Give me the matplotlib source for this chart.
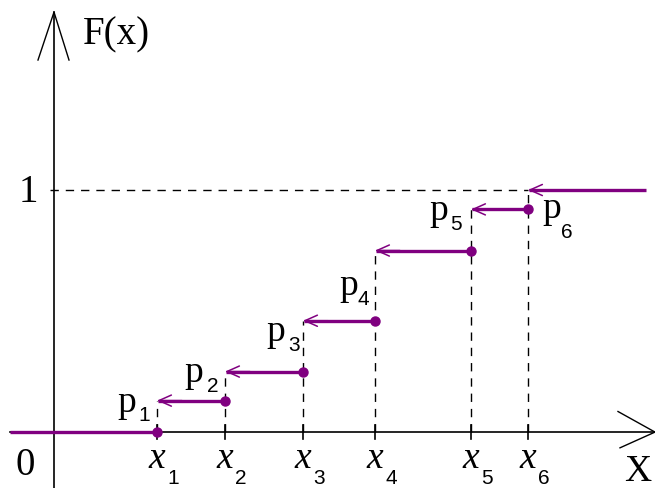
import matplotlib.pyplot as plt

# jump points of the discrete random variable and the cumulative levels after each jump
x_points = [1.03, 1.71, 2.49, 3.21, 4.17, 4.74]
F_levels = [0.13, 0.25, 0.46, 0.75, 0.92, 1.0]
x_labels = ['1', '2', '3', '4', '5', '6']
p_labels = ['1', '2', '3', '4', '5', '6']

purple = '#800080'
serif = 'Liberation Serif'
sans = 'Liberation Sans'

fig = plt.figure(figsize=(6.55, 4.88), dpi=100)
ax = fig.add_axes([0, 0, 1, 1])
ax.set_xlim(-0.54, 6.01)
ax.set_ylim(-0.231, 1.785)
ax.axis('off')

# axes with open arrow heads
ax.plot([-0.44, 6.01], [0, 0], color='black', lw=1.2)
ax.plot([0, 0], [-0.231, 1.735], color='black', lw=1.2)
ax.plot([5.64, 6.01, 5.66], [0.085, 0.0, -0.065], color='black', lw=1.0)
ax.plot([-0.16, 0, 0.15], [1.537, 1.735, 1.537], color='black', lw=1.0)

# level 1 guide
ax.plot([-0.04, x_points[-1]], [1, 1], color='black', lw=1.0, ls=(0, (6, 5)))

# ticks and dashed verticals up to each new level
for xk, Fk in zip(x_points, F_levels):
    ax.plot([xk, xk], [-0.03, 0.03], color='black', lw=1.2)
    ax.plot([xk, xk], [0, Fk], color='black', lw=1.0, ls=(0, (6, 5)))

# steps: arrow at the left end, dot at the right end
ax.plot([-0.44, x_points[0]], [0, 0], color=purple, lw=2.4, solid_capstyle='butt')
ax.plot([x_points[0]], [0], 'o', color=purple, ms=6.5)
right_ends = x_points[1:] + [5.92]
for xk, xr, Fk in zip(x_points, right_ends, F_levels):
    ax.plot([xk + 0.01, xr], [Fk, Fk], color=purple, lw=2.4, solid_capstyle='butt')
    ax.annotate('', xy=(xk, Fk), xytext=(xk + 0.25, Fk),
                arrowprops=dict(arrowstyle='->,head_length=0.9,head_width=0.4',
                                color=purple, lw=1.1, shrinkA=0, shrinkB=0))
    if xr < 5.9:
        ax.plot([xr], [Fk], 'o', color=purple, ms=6.5)


def indexed(x, y, letter, sub, style, dx, dy):
    ax.text(x, y, letter, fontsize=27, family=serif, style=style,
            ha='center', va='baseline')
    ax.text(x + dx, y + dy, sub, fontsize=15, family=sans,
            ha='left', va='baseline')


# x_k labels under the axis
for xk, s in zip(x_points, x_labels):
    indexed(xk, -0.15, 'x', s, 'italic', 0.1, -0.065)

# p_k labels beside each jump (offsets from the jump point, baseline level)
p_offsets = [(-0.30, 0.085), (-0.31, 0.205), (-0.27, 0.375), (-0.26, 0.565),
             (-0.32, 0.875), (0.24, 0.885)]
sub_shift = [(0.11, -0.04), (0.13, -0.04), (0.12, -0.04), (0.09, -0.04),
             (0.11, -0.04), (0.09, -0.085)]
for xk, s, (ox, by), (sx, sy) in zip(x_points, p_labels, p_offsets, sub_shift):
    indexed(xk + ox, by, 'p', s, 'normal', sx, sy)

ax.text(0.62, 1.64, 'F(x)', fontsize=28, family=serif, ha='center', va='center')
ax.text(-0.26, 0.99, '1', fontsize=28, family=serif, ha='center', va='center')
ax.text(-0.29, -0.14, '0', fontsize=28, family=serif, ha='center', va='center')
ax.text(5.84, -0.165, 'X', fontsize=27, family=serif, ha='center', va='center')

fig.savefig('out.png', dpi=100)
